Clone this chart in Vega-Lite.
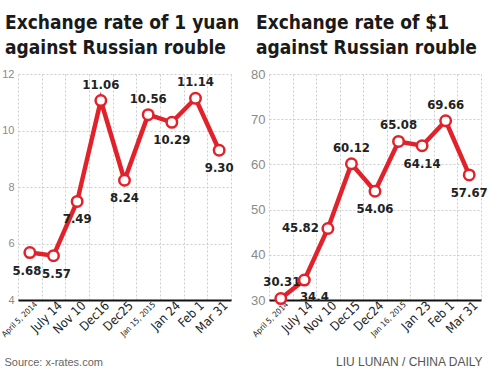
{
  "$schema": "https://vega.github.io/schema/vega-lite/v6.json",
  "padding": {"left": 0, "top": 14, "right": 8, "bottom": 4},
  "background": "white",
  "spacing": 38,
  "bounds": "flush",
  "datasets": {
    "yuan": [
      {"date": "April 5, 2014", "rate": 5.68},
      {"date": "July 14", "rate": 5.57},
      {"date": "Nov 10", "rate": 7.49},
      {"date": "Dec16", "rate": 11.06},
      {"date": "Dec25", "rate": 8.24},
      {"date": "Jan 15, 2015", "rate": 10.56},
      {"date": "Jan 24", "rate": 10.29},
      {"date": "Feb 1", "rate": 11.14},
      {"date": "Mar 31", "rate": 9.30}
    ],
    "dollar": [
      {"date": "April 5, 2014", "rate": 30.31},
      {"date": "July 14", "rate": 34.4},
      {"date": "Nov 10", "rate": 45.82},
      {"date": "Dec15", "rate": 60.12},
      {"date": "Dec24", "rate": 54.06},
      {"date": "Jan 16, 2015", "rate": 65.08},
      {"date": "Jan 23", "rate": 64.14},
      {"date": "Feb 1", "rate": 69.66},
      {"date": "Mar 31", "rate": 57.67}
    ]
  },
  "config": {
    "view": {"stroke": null},
    "title": {"font": "DejaVu Sans Condensed, sans-serif", "fontSize": 19, "fontWeight": "bold", "color": "#1a1a1a", "anchor": "start", "frame": "group", "lineHeight": 25, "offset": 10, "dx": -13},
    "axisY": {"labelFont": "Liberation Sans, sans-serif", "labelFontSize": 11, "labelColor": "#8a8a8a", "domain": false, "ticks": false, "labelPadding": 4, "gridColor": "#cccccc", "gridDash": [2, 2], "gridWidth": 1},
    "axisX": {"labelFont": "DejaVu Sans Condensed, sans-serif", "labelFontSize": 12.5, "labelColor": "#222", "labelAngle": -45, "labelAlign": "right", "labelBaseline": "middle", "labelOffset": 6, "ticks": false, "domainColor": "#111", "domainWidth": 2, "gridColor": "#cccccc", "gridDash": [2, 2], "gridWidth": 1, "labelPadding": 3, "titleFont": "Liberation Sans, sans-serif", "titleFontSize": 11, "titleFontWeight": "normal", "titleColor": "#666"}
  },
  "hconcat": [
    {
      "data": {"name": "yuan"},
      "width": 213,
      "height": 226,
      "title": {"text": ["Exchange rate of 1 yuan", "against Russian rouble"]},
      "encoding": {
        "x": {"field": "date", "type": "ordinal", "sort": null, "scale": {"type": "band", "paddingInner": 0, "paddingOuter": 0},
          "axis": {"title": "Source: x-rates.com", "titleAnchor": "start", "titleAlign": "left", "titleX": -14, "titlePadding": 18, "grid": true, "tickBand": "extent",
            "labelFontSize": {"condition": {"test": "datum.value === 'April 5, 2014' || datum.value === 'Jan 15, 2015'", "value": 8}, "value": 12.5}}},
        "y": {"field": "rate", "type": "quantitative", "scale": {"domain": [4, 12]}, "axis": {"title": null, "values": [4, 6, 8, 10, 12], "grid": true}}
      },
      "layer": [
        {"mark": {"type": "line", "color": "#e2222b", "strokeWidth": 4.5}},
        {"mark": {"type": "point", "filled": true, "fill": "white", "stroke": "#e2222b", "strokeWidth": 2.5, "size": 110, "opacity": 1}},
        {"transform": [{"filter": "indexof(['Dec16','Jan 15, 2015','Feb 1'], datum.date) >= 0"}],
          "mark": {"type": "text", "font": "DejaVu Sans Condensed, sans-serif", "fontWeight": "bold", "fontSize": 13, "color": "#222", "dy": -16},
          "encoding": {"text": {"field": "rate", "type": "quantitative", "format": ".2f"}}},
        {"transform": [{"filter": "indexof(['Dec16','Jan 15, 2015','Feb 1','April 5, 2014','July 14'], datum.date) < 0"}],
          "mark": {"type": "text", "font": "DejaVu Sans Condensed, sans-serif", "fontWeight": "bold", "fontSize": 13, "color": "#222", "dy": 18},
          "encoding": {"text": {"field": "rate", "type": "quantitative", "format": ".2f"}}},
        {"transform": [{"filter": "datum.date === 'April 5, 2014'"}],
          "mark": {"type": "text", "font": "DejaVu Sans Condensed, sans-serif", "fontWeight": "bold", "fontSize": 13, "color": "#222", "dy": 18, "dx": -3},
          "encoding": {"text": {"field": "rate", "type": "quantitative", "format": ".2f"}}},
        {"transform": [{"filter": "datum.date === 'July 14'"}],
          "mark": {"type": "text", "font": "DejaVu Sans Condensed, sans-serif", "fontWeight": "bold", "fontSize": 13, "color": "#222", "dy": 18, "dx": 3},
          "encoding": {"text": {"field": "rate", "type": "quantitative", "format": ".2f"}}}
      ]
    },
    {
      "data": {"name": "dollar"},
      "width": 212,
      "height": 226,
      "title": {"text": ["Exchange rate of $1", "against Russian rouble"]},
      "encoding": {
        "x": {"field": "date", "type": "ordinal", "sort": null, "scale": {"type": "band", "paddingInner": 0, "paddingOuter": 0},
          "axis": {"title": "LIU LUNAN / CHINA DAILY", "titleAnchor": "end", "titleAlign": "right", "titleX": 213, "titlePadding": 18, "titleFontSize": 12, "titleColor": "#555", "grid": true, "tickBand": "extent",
            "labelFontSize": {"condition": {"test": "datum.value === 'April 5, 2014' || datum.value === 'Jan 16, 2015'", "value": 8}, "value": 12.5}}},
        "y": {"field": "rate", "type": "quantitative", "scale": {"domain": [30, 80]}, "axis": {"title": null, "values": [30, 40, 50, 60, 70, 80], "grid": true, "labelFontSize": 13}}
      },
      "layer": [
        {"mark": {"type": "line", "color": "#e2222b", "strokeWidth": 4.5}},
        {"mark": {"type": "point", "filled": true, "fill": "white", "stroke": "#e2222b", "strokeWidth": 2.5, "size": 110, "opacity": 1}},
        {"transform": [{"filter": "indexof(['Dec15','Jan 16, 2015','Feb 1'], datum.date) >= 0"}],
          "mark": {"type": "text", "font": "DejaVu Sans Condensed, sans-serif", "fontWeight": "bold", "fontSize": 13, "color": "#222", "dy": -16},
          "encoding": {"text": {"field": "rate", "type": "nominal"}}},
        {"transform": [{"filter": "datum.date === 'April 5, 2014'"}],
          "mark": {"type": "text", "font": "DejaVu Sans Condensed, sans-serif", "fontWeight": "bold", "fontSize": 13, "color": "#222", "dy": -17, "dx": 1},
          "encoding": {"text": {"field": "rate", "type": "nominal"}}},
        {"transform": [{"filter": "indexof(['Dec24','Jan 23','Mar 31'], datum.date) >= 0"}],
          "mark": {"type": "text", "font": "DejaVu Sans Condensed, sans-serif", "fontWeight": "bold", "fontSize": 13, "color": "#222", "dy": 18},
          "encoding": {"text": {"field": "rate", "type": "nominal"}}},
        {"transform": [{"filter": "datum.date === 'July 14'"}],
          "mark": {"type": "text", "font": "DejaVu Sans Condensed, sans-serif", "fontWeight": "bold", "fontSize": 13, "color": "#222", "dy": 17, "dx": 10},
          "encoding": {"text": {"field": "rate", "type": "nominal"}}},
        {"transform": [{"filter": "datum.date === 'Nov 10'"}],
          "mark": {"type": "text", "font": "DejaVu Sans Condensed, sans-serif", "fontWeight": "bold", "fontSize": 13, "color": "#222", "align": "right", "dx": -9, "dy": 0},
          "encoding": {"text": {"field": "rate", "type": "nominal"}}}
      ]
    }
  ]
}
